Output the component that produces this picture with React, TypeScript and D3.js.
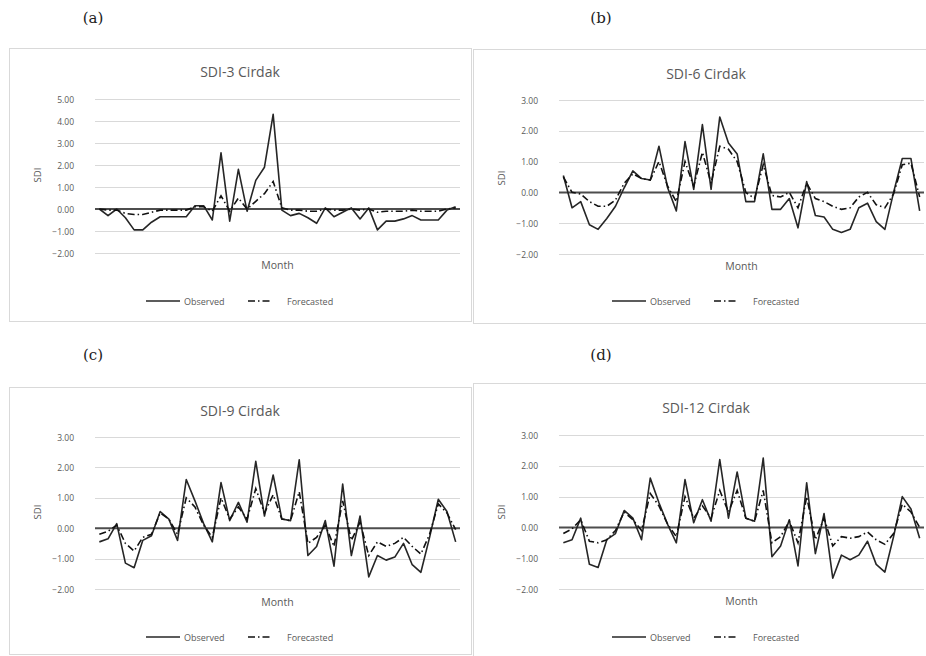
import React from "react";
import * as d3 from "d3";

const months = d3.range(42);

const obs3 = [0.0, -0.3, 0.0, -0.4, -0.95, -0.95, -0.6, -0.35, -0.35, -0.35, -0.35, 0.15, 0.15, -0.5, 2.55, -0.55, 1.8, -0.1, 1.3, 1.9, 4.3, -0.05, -0.3, -0.2, -0.4, -0.65, 0.05, -0.35, -0.15, 0.05, -0.45, 0.05, -0.95, -0.55, -0.55, -0.45, -0.3, -0.5, -0.5, -0.5, -0.05, 0.1];
const fc3 = [0.0, -0.05, -0.05, -0.2, -0.25, -0.25, -0.15, -0.05, -0.05, -0.05, -0.05, 0.1, 0.1, -0.1, 0.6, -0.1, 0.5, 0.0, 0.35, 0.7, 1.25, 0.05, -0.05, -0.05, -0.1, -0.1, 0.0, -0.05, -0.05, 0.0, -0.05, 0.0, -0.15, -0.1, -0.1, -0.1, -0.05, -0.1, -0.1, -0.1, 0.0, 0.05];

const obs6 = [0.55, -0.5, -0.3, -1.05, -1.2, -0.85, -0.45, 0.15, 0.7, 0.45, 0.4, 1.5, 0.15, -0.6, 1.65, 0.1, 2.2, 0.1, 2.45, 1.6, 1.25, -0.3, -0.3, 1.25, -0.55, -0.55, -0.2, -1.15, 0.35, -0.75, -0.8, -1.2, -1.3, -1.2, -0.5, -0.35, -0.95, -1.2, 0.0, 1.1, 1.1, -0.6];
const fc6 = [0.5, 0.0, -0.05, -0.3, -0.45, -0.45, -0.25, 0.3, 0.6, 0.45, 0.4, 1.0, 0.2, -0.3, 1.0, 0.2, 1.3, 0.3, 1.5, 1.4, 1.0, 0.0, -0.2, 0.9, -0.1, -0.15, 0.0, -0.5, 0.3, -0.2, -0.3, -0.45, -0.55, -0.5, -0.15, 0.0, -0.4, -0.5, -0.05, 0.9, 0.95, -0.15];

const obs9 = [-0.45, -0.35, 0.15, -1.15, -1.3, -0.4, -0.25, 0.55, 0.3, -0.4, 1.6, 0.9, 0.15, -0.45, 1.5, 0.25, 0.85, 0.2, 2.2, 0.4, 1.75, 0.3, 0.25, 2.25, -0.9, -0.6, 0.25, -1.25, 1.45, -0.9, 0.4, -1.6, -0.9, -1.05, -0.95, -0.5, -1.2, -1.45, -0.3, 0.95, 0.55, -0.45];
const fc9 = [-0.2, -0.1, 0.1, -0.5, -0.75, -0.3, -0.2, 0.5, 0.3, -0.2, 1.0, 0.7, 0.1, -0.3, 1.0, 0.3, 0.7, 0.3, 1.3, 0.5, 1.1, 0.3, 0.25, 1.2, -0.5, -0.3, 0.1, -0.6, 0.9, -0.4, 0.2, -0.9, -0.45, -0.6, -0.5, -0.3, -0.6, -0.85, -0.2, 0.8, 0.5, -0.05];

const obs12 = [-0.5, -0.4, 0.3, -1.2, -1.3, -0.4, -0.2, 0.55, 0.3, -0.4, 1.6, 0.8, 0.1, -0.5, 1.55, 0.15, 0.9, 0.2, 2.2, 0.3, 1.8, 0.3, 0.2, 2.25, -0.95, -0.6, 0.25, -1.25, 1.45, -0.85, 0.45, -1.65, -0.9, -1.05, -0.9, -0.45, -1.2, -1.45, -0.3, 1.0, 0.6, -0.35];
const fc12 = [-0.2, -0.05, 0.25, -0.45, -0.5, -0.4, -0.1, 0.5, 0.25, -0.1, 1.1, 0.7, 0.1, -0.3, 1.0, 0.3, 0.7, 0.3, 1.2, 0.5, 1.2, 0.3, 0.2, 1.2, -0.5, -0.3, 0.2, -0.5, 1.0, -0.4, 0.3, -0.6, -0.3, -0.35, -0.3, -0.15, -0.4, -0.55, -0.2, 0.75, 0.5, 0.0];

const ticksA = [-2, -1, 0, 1, 2, 3, 4, 5];
const ticksB = [-2, -1, 0, 1, 2, 3];

const panelLabels = ["(a)", "(b)", "(c)", "(d)"];
const titles = ["SDI-3 Cirdak", "SDI-6 Cirdak", "SDI-9 Cirdak", "SDI-12 Cirdak"];
const legendNames = ["Observed", "Forecasted"];

const TXT = "#595959";
const FONT = "'Open Sans', 'Liberation Sans', sans-serif";

type Layout = {
  lx: number; ly: number;
  box: [number, number, number, number];
  ty: number;
  px0: number; px1: number;
  yTop: number; yBot: number;
  monthY: number; legendY: number;
  sdiY: number;
};

const layouts: Layout[] = [
  { lx: 93, ly: 18, box: [9, 48, 471, 321], ty: 71, px0: 95, px1: 460, yTop: 99, yBot: 253, monthY: 265, legendY: 301, sdiY: 175 },
  { lx: 601, ly: 18, box: [473, 49, 939, 323], ty: 73, px0: 559, px1: 924, yTop: 100, yBot: 254, monthY: 266, legendY: 301, sdiY: 178 },
  { lx: 93, ly: 355, box: [9, 387, 471, 654], ty: 410, px0: 95, px1: 460, yTop: 437, yBot: 589, monthY: 602, legendY: 637, sdiY: 512 },
  { lx: 601, ly: 355, box: [473, 383, 939, 656], ty: 407, px0: 559, px1: 924, yTop: 435, yBot: 589, monthY: 601, legendY: 637, sdiY: 512 },
];

const seriesObs = [obs3, obs6, obs9, obs12];
const seriesFc = [fc3, fc6, fc9, fc12];
const tickSets = [ticksA, ticksB, ticksB, ticksB];

function Panel({ i }: { i: number }) {
  const L = layouts[i];
  const ticks = tickSets[i];
  const x = d3.scalePoint<number>().domain(months).range([L.px0, L.px1]).padding(0.5);
  const y = d3.scaleLinear().domain([d3.min(ticks)!, d3.max(ticks)!]).range([L.yBot, L.yTop]);
  const line = d3.line<number>().x((_, j) => x(months[j])!).y((v) => y(v));
  const [bx0, by0, bx1, by1] = L.box;
  const bc = (bx0 + bx1) / 2;
  const bcx = i % 2 === 0 ? bc : 706;
  const sdiX = L.px0 - 58;
  return (
    <g>
      <text x={L.lx} y={L.ly} textAnchor="middle" dominantBaseline="central" fontFamily="'DejaVu Serif', 'Liberation Serif', serif" fontSize={15} fill="#222">{panelLabels[i]}</text>
      <rect x={bx0 + 0.5} y={by0 + 0.5} width={bx1 - bx0} height={by1 - by0} fill="#fff" stroke="#d9d9d9" />
      <text x={bcx} y={L.ty} textAnchor="middle" dominantBaseline="central" fontFamily={FONT} fontSize={14} fill={TXT}>{titles[i]}</text>
      {ticks.map((t) => (
        <g key={t}>
          {t !== 0 && <line x1={L.px0} x2={L.px1} y1={Math.round(y(t)) + 0.5} y2={Math.round(y(t)) + 0.5} stroke="#d9d9d9" strokeWidth={1.2} />}
          <text x={L.px0 - 21} y={y(t)} textAnchor="end" dominantBaseline="central" fontFamily={FONT} fontSize={8.5} fill={TXT}>{d3.format(".2f")(t)}</text>
        </g>
      ))}
      <line x1={L.px0} x2={L.px1} y1={y(0)} y2={y(0)} stroke="#4d4d4d" strokeWidth={2} />
      <path d={line(seriesObs[i]) || ""} fill="none" stroke="#262626" strokeWidth={1.6} strokeLinejoin="round" />
      <path d={line(seriesFc[i]) || ""} fill="none" stroke="#111" strokeWidth={1.6} strokeDasharray="7,3,1.5,3" />
      <text transform={`translate(${sdiX},${L.sdiY}) rotate(-90)`} textAnchor="middle" dominantBaseline="central" fontFamily={FONT} fontSize={9.5} fill={TXT}>SDI</text>
      <text x={(L.px0 + L.px1) / 2} y={L.monthY} textAnchor="middle" dominantBaseline="central" fontFamily={FONT} fontSize={10.5} fill={TXT}>Month</text>
      <line x1={bcx - 94} x2={bcx - 60} y1={L.legendY} y2={L.legendY} stroke="#262626" strokeWidth={1.6} />
      <text x={bcx - 56} y={L.legendY} dominantBaseline="central" fontFamily={FONT} fontSize={9} fill={TXT}>{legendNames[0]}</text>
      <line x1={bcx + 8} x2={bcx + 30} y1={L.legendY} y2={L.legendY} stroke="#111" strokeWidth={1.6} strokeDasharray="7,3,1.5,3" />
      <text x={bcx + 47} y={L.legendY} dominantBaseline="central" fontFamily={FONT} fontSize={9} fill={TXT}>{legendNames[1]}</text>
    </g>
  );
}

export default function App() {
  return (
    <svg width={926} height={656} style={{ position: "absolute", left: 0, top: 0, background: "#fff" }}>
      <rect x={0} y={0} width={926} height={656} fill="#fff" />
      {[0, 1, 2, 3].map((i) => <Panel key={i} i={i} />)}
    </svg>
  );
}
